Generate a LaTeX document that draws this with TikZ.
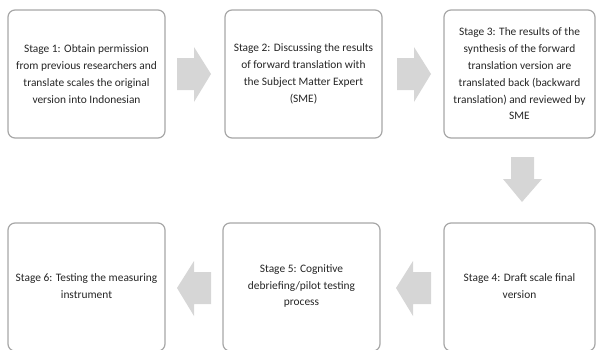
\documentclass[tikz,border=0pt]{standalone}
\usepackage{fontspec}
\setmainfont{Carlito}
\begin{document}
\begin{tikzpicture}[x=1pt,y=-1pt,
  stagebox/.style={draw=gray!85!black!60, line width=1.2pt, rounded corners=7pt, fill=white},
  stagetext/.style={align=center, font=\fontsize{11.4}{16.8}\selectfont, text=black!85, inner sep=0pt},
  blockarrow/.style={fill=black!16, draw=none}]
\useasboundingbox (0,0) rectangle (597,349);
% boxes
\draw[stagebox] (8,10) rectangle (165,138);
\draw[stagebox] (225,10) rectangle (382,138);
\draw[stagebox] (444,10) rectangle (595,138);
\draw[stagebox] (444,223) rectangle (595,351);
\draw[stagebox] (223,223) rectangle (380,351);
\draw[stagebox] (8,223) rectangle (165,351);
% texts
\node[stagetext] (s1) at (86.5,74) {Stage 1: Obtain permission\\from previous researchers and\\translate scales the original\\version into Indonesian};
\node[stagetext] (s2) at (303.5,74) {Stage 2: Discussing the results\\of forward translation with\\the Subject Matter Expert\\(SME)};
\node[stagetext] (s3) at (519.5,74) {Stage 3: The results of the\\synthesis of the forward\\translation version are\\translated back (backward\\translation) and reviewed by\\SME};
\node[stagetext] (s4) at (519.5,286) {Stage 4: Draft scale final\\version};
\node[stagetext] (s5) at (301.5,286) {Stage 5: Cognitive\\debriefing/pilot testing\\process};
\node[stagetext] (s6) at (86.5,286) {Stage 6: Testing the measuring\\instrument};
% block arrows
\fill[blockarrow] (177,58) -- (194,58) -- (194,47) -- (211,74) -- (194,102) -- (194,90) -- (177,90) -- cycle;
\fill[blockarrow] (397,58) -- (414,58) -- (414,47) -- (431,74) -- (414,102) -- (414,90) -- (397,90) -- cycle;
\fill[blockarrow] (511,157) -- (534,157) -- (534,179) -- (542,179) -- (522,202) -- (503,179) -- (511,179) -- cycle;
\fill[blockarrow] (431,272) -- (413,272) -- (413,261) -- (396,288) -- (413,316) -- (413,304) -- (431,304) -- cycle;
\fill[blockarrow] (211,272) -- (194,272) -- (194,261) -- (177,288) -- (194,316) -- (194,304) -- (211,304) -- cycle;
\end{tikzpicture}
\end{document}
